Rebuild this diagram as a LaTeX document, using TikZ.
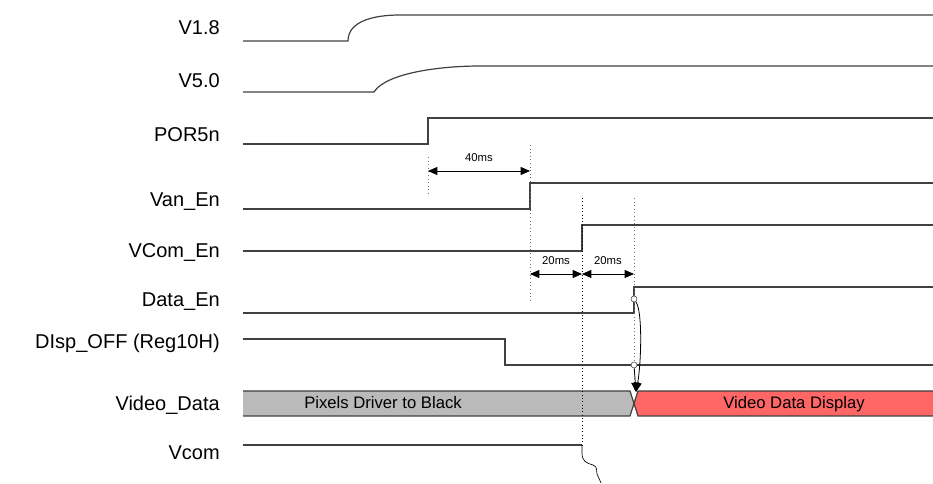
\documentclass[tikz,border=0pt]{standalone}
\usepackage{fontspec}
\setmainfont{Liberation Sans}
\usetikzlibrary{arrows.meta}
\begin{document}
\begin{tikzpicture}[x=0.75pt,y=-0.75pt,
  sig/.style={draw=black!75, line width=0.9pt},
  lab/.style={anchor=base east, inner sep=0pt, font=\fontsize{15}{18}\selectfont},
  tim/.style={anchor=base, inner sep=0pt, font=\fontsize{8.5}{10}\selectfont},
  bustext/.style={anchor=base, inner sep=0pt, font=\fontsize{12.5}{15}\selectfont},
  guide/.style={draw=black!55, dotted, line width=0.7pt},
  guidek/.style={draw=black, dotted, line width=0.5pt},
  dimarrow/.style={draw=black, line width=0.6pt, {Triangle[length=7pt,width=6pt]}-{Triangle[length=7pt,width=6pt]}},
  link/.style={draw=black, line width=0.6pt, -{Triangle[length=7pt,width=6pt]}},
  ring/.style={circle, draw=black!75, fill=white, line width=0.4pt, inner sep=0pt, minimum size=4.5pt},
  busgray/.style={fill=black!27},
  busred/.style={fill=red!60!white},
]
\useasboundingbox (0,0) rectangle (933,484);

% labels
\node[lab] (lV18) at (220,35) {V1.8};
\node[lab] (lV50) at (220,88) {V5.0};
\node[lab] (lPOR) at (220,142) {POR5n};
\node[lab] (lVan) at (220,207) {Van\_En};
\node[lab] (lVCom) at (220,258) {VCom\_En};
\node[lab] (lData) at (220,307) {Data\_En};
\node[lab] (lDisp) at (220,349) {DIsp\_OFF (Reg10H)};
\node[lab] (lVid) at (220,411) {Video\_Data};
\node[lab] (lVcom) at (220,460) {Vcom};

% video data bus
\coordinate (b1) at (243,391);
\coordinate (b2) at (630,391);
\coordinate (bx) at (634,403.5);
\coordinate (b3) at (630,416);
\coordinate (b4) at (243,416);
\coordinate (r1) at (638,391);
\coordinate (r2) at (933,391);
\coordinate (r3) at (933,416);
\coordinate (r4) at (638,416);
\fill[busgray] (b1) -- (b2) -- (bx) -- (b3) -- (b4) -- cycle;
\fill[busred] (r1) -- (r2) -- (r3) -- (r4) -- (bx) -- cycle;
\draw[sig] (b1) -- (b2) -- (r4) -- (r3);
\draw[sig] (b4) -- (b3) -- (r1) -- (r2);
\node[bustext] (tPix) at (383,409) {Pixels Driver to Black};
\node[bustext] (tVid) at (794,409) {Video Data Display};

% signals
\coordinate (a1) at (243,41);  \coordinate (a2) at (348,41);
\coordinate (a3) at (400,15);  \coordinate (a4) at (933,15);
\draw[sig] (a1) -- (a2) .. controls (348,21) and (374,15) .. (a3) -- (a4);

\coordinate (v1) at (243,92);  \coordinate (v2) at (374,92);
\coordinate (v3) at (480,66);  \coordinate (v4) at (933,66);
\draw[sig] (v1) -- (v2) .. controls (386,73) and (440,66) .. (v3) -- (v4);

\coordinate (p1) at (243,144); \coordinate (p2) at (428,144);
\coordinate (p3) at (428,118); \coordinate (p4) at (933,118);
\draw[sig] (p1) -- (p2) -- (p3) -- (p4);

\coordinate (n1) at (243,209); \coordinate (n2) at (530,209);
\coordinate (n3) at (530,183); \coordinate (n4) at (933,183);
\draw[sig] (n1) -- (n2) -- (n3) -- (n4);

\coordinate (c1) at (243,251); \coordinate (c2) at (582,251);
\coordinate (c3) at (582,225); \coordinate (c4) at (933,225);
\draw[sig] (c1) -- (c2) -- (c3) -- (c4);

\coordinate (d1) at (243,313); \coordinate (d2) at (634,313);
\coordinate (d3) at (634,287); \coordinate (d4) at (933,287);
\draw[sig] (d1) -- (d2) -- (d3) -- (d4);

\coordinate (o1) at (243,339); \coordinate (o2) at (505,339);
\coordinate (o3) at (505,365); \coordinate (o4) at (933,365);
\draw[sig] (o1) -- (o2) -- (o3) -- (o4);

\coordinate (m1) at (243,445); \coordinate (m2) at (582,445);
\draw[sig] (m1) -- (m2);
\coordinate (m3) at (601,483);
\draw[draw=black, line width=0.5pt] (m2) -- (582,453)
  .. controls (582,461) and (586,463) .. (593,465)
  .. controls (598,467) and (596,471) .. (597,474) -- (m3);

% guide lines
\coordinate (g1a) at (428,157); \coordinate (g1b) at (428,196);
\coordinate (g2a) at (530,145); \coordinate (g2b) at (530,302);
\coordinate (g3a) at (582,198); \coordinate (g3b) at (582,445);
\coordinate (g4a) at (634,198); \coordinate (g4b) at (634,390);
\draw[guide] (g1a) -- (g1b);
\draw[guide] (g2a) -- (g2b);
\draw[guidek] (g3a) -- (g3b);
\draw[guide] (g4a) -- (g4b);

% dimensions
\coordinate (h1a) at (428,171); \coordinate (h1b) at (530,171);
\draw[dimarrow] (h1a) -- (h1b);
\node[tim] (t40) at (479,162) {40ms};
\coordinate (h2a) at (530,274); \coordinate (h2b) at (582,274);
\coordinate (h3b) at (634,274);
\draw[dimarrow] (h2a) -- (h2b);
\draw[dimarrow] (h2b) -- (h3b);
\node[tim] (t20a) at (556,265) {20ms};
\node[tim] (t20b) at (608,265) {20ms};

% cause links
\coordinate (tip) at (636,392);
\node[ring] (k1) at (634,299) {};
\node[ring] (k2) at (634,365) {};
\draw[link] (k1) .. controls (643,312) and (641,365) .. (tip);
\draw[link] (k2) -- (tip);
\end{tikzpicture}
\end{document}
